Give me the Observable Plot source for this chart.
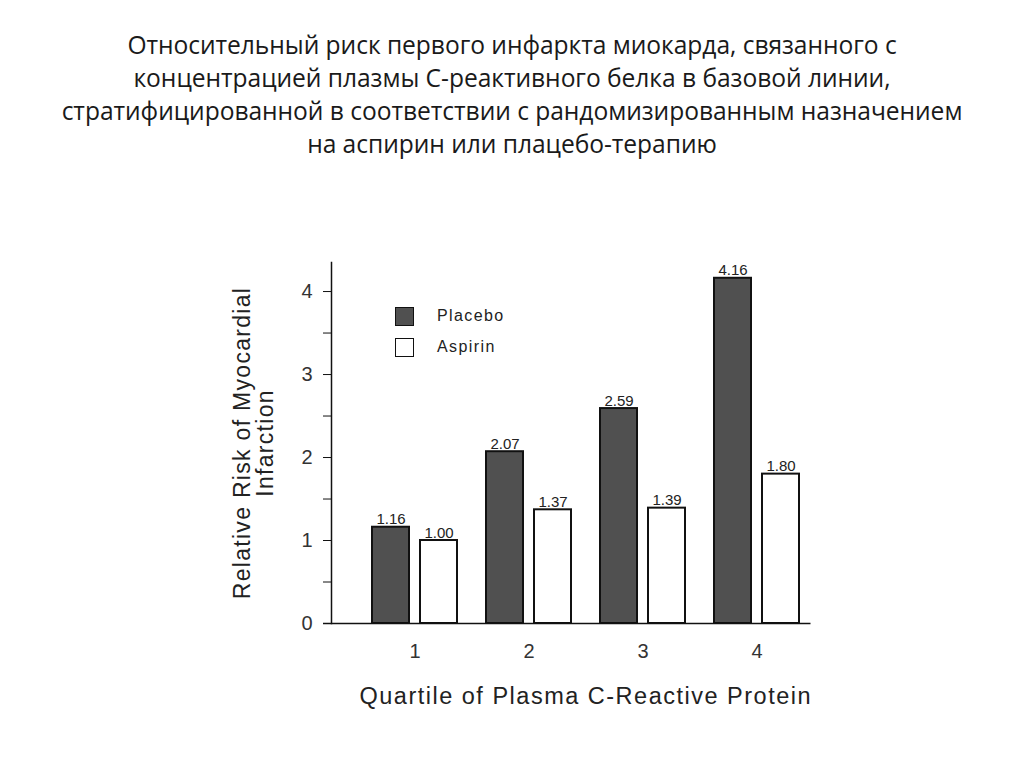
<!DOCTYPE html>
<html>
<head>
<meta charset="utf-8">
<script src="https://cdn.jsdelivr.net/npm/d3@7"></script>
<script src="https://cdn.jsdelivr.net/npm/@observablehq/plot@0.6"></script>
<style>
  html, body { margin: 0; padding: 0; background: #fff; }
  body { width: 1024px; height: 767px; overflow: hidden; position: relative; }
  #title {
    height: 175px; box-sizing: border-box; padding-top: 28px;
    font-family: "Open Sans", sans-serif;
    font-size: 24.6px; line-height: 33px; text-align: center; color: #1a1a1a;
    letter-spacing: -0.05px;
  }
  #chart svg { display: block; }
  #chart g[aria-label="x-axis label"] text { font-size: 23.5px !important; letter-spacing: 1.5px; fill: #222; }
  #chart g[aria-label="y-axis label"] text { font-size: 23px !important; letter-spacing: 1.3px; fill: #222; }
  #chart g[aria-label$="tick label"], #chart g[aria-label$="tick label"] text { font-size: 20px !important; fill: #333; }
  #legend { position: absolute; left: 395px; top: 306px; font-family: "Liberation Sans", Arial, sans-serif; font-size: 16px; color: #222; letter-spacing: 1.4px; }
  #legend .row { display: flex; align-items: center; height: 20px; margin-bottom: 11px; }
  #legend .sw { width: 17px; height: 17px; border: 1.5px solid #111; margin-right: 23px; }
</style>
</head>
<body>
<div id="title"></div>
<div id="chart"></div>
<div id="legend"></div>
<script>
const titleLines = [
  "Относительный риск первого инфаркта миокарда, связанного с",
  "концентрацией плазмы С-реактивного белка в базовой линии,",
  "стратифицированной в соответствии с рандомизированным назначением",
  "на аспирин или плацебо-терапию"
];
const quartiles = ["1", "2", "3", "4"];
const placeboValues = [1.16, 2.07, 2.59, 4.16];
const aspirinValues = [1.00, 1.37, 1.39, 1.80];
const seriesNames = ["Placebo", "Aspirin"];
const seriesColors = ["#505050", "#ffffff"];
const yTicks = [0, 1, 2, 3, 4];
const yMinorTicks = [0.5, 1.5, 2.5, 3.5];
const xLabel = "Quartile of Plasma C-Reactive Protein";
const yLabel = "Relative Risk of Myocardial\nInfarction";

document.getElementById("title").innerHTML = titleLines.join("<br>");

const placebo = quartiles.map((q, i) => ({q, v: placeboValues[i]}));
const aspirin = quartiles.map((q, i) => ({q, v: aspirinValues[i]}));

const chart = Plot.plot({
  width: 1024,
  height: 592,
  marginLeft: 331,
  marginRight: 184.5,
  marginTop: 87,
  marginBottom: 144,
  style: {fontFamily: "'Liberation Sans', Arial, sans-serif", color: "#222", background: "transparent"},
  x: {domain: quartiles, paddingInner: 0.24, paddingOuter: 0.34, axis: null},
  y: {domain: [0, 4.35], axis: null},
  marks: [
    Plot.barY(placebo, {x: "q", y: "v", fill: seriesColors[0], stroke: "#111", strokeWidth: 2, insetLeft: 1, insetRight: 49}),
    Plot.barY(aspirin, {x: "q", y: "v", fill: seriesColors[1], stroke: "#111", strokeWidth: 2, insetLeft: 49, insetRight: 1}),
    Plot.text(placebo, {x: "q", y: "v", text: d => d.v.toFixed(2), dx: -24, dy: -3, lineAnchor: "bottom", fontSize: 15, fill: "#222", style: "letter-spacing:2px"}),
    Plot.text(aspirin, {x: "q", y: "v", text: d => d.v.toFixed(2), dx: 24, dy: -3, lineAnchor: "bottom", fontSize: 15, fill: "#222", style: "letter-spacing:2px"}),
    Plot.axisX({tickSize: 0, tickPadding: 20, fontSize: 20, label: xLabel, labelAnchor: "center", labelArrow: "none", labelOffset: 80}),
    Plot.axisY(yTicks, {anchor: "left", tickSize: 8, tickPadding: 11, fontSize: 20, tickFormat: d3.format("d"), stroke: "#111", label: yLabel, labelAnchor: "center", labelArrow: "none", labelOffset: 98}),
    Plot.axisY(yMinorTicks, {anchor: "left", tickSize: 8, text: null, stroke: "#111", label: null}),
    Plot.frame({anchor: "left", stroke: "#111", strokeWidth: 1.5}),
    Plot.ruleY([0], {stroke: "#111", strokeWidth: 1.5, insetLeft: -8, insetRight: 29})
  ]
});
document.getElementById("chart").appendChild(chart);

const legend = document.getElementById("legend");
seriesNames.forEach((name, i) => {
  const row = document.createElement("div");
  row.className = "row";
  const sw = document.createElement("div");
  sw.className = "sw";
  sw.style.background = seriesColors[i];
  const lab = document.createElement("span");
  lab.textContent = name;
  row.appendChild(sw);
  row.appendChild(lab);
  legend.appendChild(row);
});
</script>
</body>
</html>
